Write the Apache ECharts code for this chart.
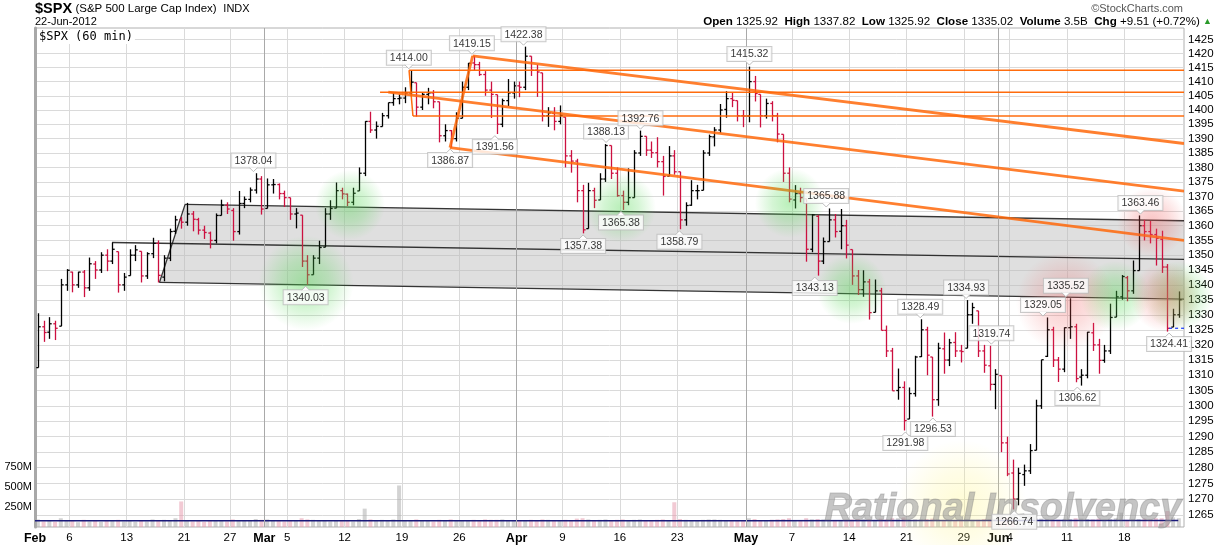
<!DOCTYPE html>
<html><head><meta charset="utf-8">
<script src="https://cdn.jsdelivr.net/npm/echarts@6/dist/echarts.min.js"></script>
<style>html,body{margin:0;padding:0;background:#fff}#c{width:1224px;height:545px}</style>
</head><body><div id="c"></div><script>
// ---------------- DATA ----------------
// trading days (x unit = one trading day, two bars per day: AM / PM)
const days = ['02-01','02-02','02-03','02-06','02-07','02-08','02-09','02-10','02-13','02-14','02-15','02-16','02-17','02-21','02-22','02-23','02-24','02-27','02-28','02-29',
'03-01','03-02','03-05','03-06','03-07','03-08','03-09','03-12','03-13','03-14','03-15','03-16','03-19','03-20','03-21','03-22','03-23','03-26','03-27','03-28','03-29','03-30',
'04-02','04-03','04-04','04-05','04-09','04-10','04-11','04-12','04-13','04-16','04-17','04-18','04-19','04-20','04-23','04-24','04-25','04-26','04-27','04-30',
'05-01','05-02','05-03','05-04','05-07','05-08','05-09','05-10','05-11','05-14','05-15','05-16','05-17','05-18','05-21','05-22','05-23','05-24','05-25','05-29','05-30','05-31',
'06-01','06-04','06-05','06-06','06-07','06-08','06-11','06-12','06-13','06-14','06-15','06-18','06-19','06-20','06-21','06-22'];

// [open, high, low, close] per half-day bar
const ohlc = [
[1312.5,1330.5,1312.5,1326],[1326,1328,1321,1324.1],
[1324.2,1329.2,1322,1327],[1327,1328,1321.6,1325.5],
[1326.2,1342,1326.2,1340],[1340,1345.3,1338,1344.9],
[1344.3,1344.4,1337.5,1340],[1340,1344.4,1339,1344.3],
[1344.3,1345,1335.9,1339],[1339,1349.2,1338,1347.1],
[1347,1348,1342,1345],[1345,1351,1344,1350],
[1350,1352,1344.6,1348],[1348,1354.3,1347,1352],
[1351.2,1351.2,1337.4,1340],[1340,1344,1338,1342.6],
[1343.1,1352,1343.1,1350],[1350,1353.4,1348,1351.8],
[1351.3,1351.3,1340.8,1343],[1343,1351,1342,1350.5],
[1350.5,1355.9,1349,1354],[1354,1355,1340.8,1343.2],
[1342.6,1350,1341.2,1349],[1349,1359,1348,1358],
[1358.1,1363.4,1357.2,1362],[1362,1363,1359,1361.2],
[1361.2,1367.8,1360,1364],[1364,1365,1358.1,1362.2],
[1362.1,1362.7,1357,1358.5],[1358.5,1360,1355.5,1357.7],
[1357.5,1358,1352.3,1355],[1355,1364.2,1354,1363.5],
[1363.5,1368.9,1363.5,1367],[1367,1368,1364,1365.7],
[1365.2,1366,1354.9,1358],[1358,1371.9,1357,1367.6],
[1367.6,1370,1366,1369],[1369,1373.1,1368,1372.2],
[1372.2,1378,1371,1376],[1376,1377,1363.8,1365.7],
[1365.9,1376.2,1365.9,1374],[1374,1376,1371,1374.1],
[1374.1,1374.5,1369,1371],[1371,1372,1366.4,1369.6],
[1369.6,1369.6,1362,1364],[1364,1366,1359.1,1364.3],
[1363.6,1363.6,1346,1348],[1348,1350,1340,1343.4],
[1343.4,1350,1343.4,1349],[1349,1354.9,1347,1352.6],
[1352.7,1366,1352.7,1364],[1364,1368.7,1362,1365.9],
[1366,1374.8,1366,1372],[1372,1373,1369,1370.9],
[1370.8,1371,1366.7,1368],[1368,1373,1367,1371.1],
[1371.9,1380,1371.9,1378],[1378,1396.1,1377,1396],
[1396,1399.4,1392,1393],[1393,1396,1390,1394.3],
[1394.2,1399,1394.2,1398],[1398,1402.6,1397,1402.6],
[1402.6,1405.9,1401.5,1404],[1404,1405.5,1402,1404.2],
[1404.2,1408,1402.4,1406],[1406,1414,1405,1409.8],
[1409.6,1409.6,1397.7,1401],[1401,1406,1400,1405.5],
[1405.5,1407.8,1402,1406],[1406,1407,1400.6,1402.9],
[1402.9,1402.9,1388.7,1391],[1391,1395,1389,1392.8],
[1392.8,1393,1386.9,1390],[1390,1399.2,1389,1397.1],
[1397.1,1410,1397.1,1408],[1408,1416.6,1407,1416.5],
[1416.6,1419.2,1414,1416],[1416,1417,1412,1412.5],
[1412.5,1413.7,1405,1407],[1407,1410,1397.2,1405.5],
[1405.4,1405.4,1391.6,1395],[1395,1404,1394,1403.3],
[1403.3,1410.9,1401.4,1406],[1406,1410,1404,1408.5],
[1408.5,1410,1404.5,1408],[1408,1422.4,1407,1419],
[1419,1419,1412,1414],[1414,1416,1404.6,1413.4],
[1413.1,1413.1,1396,1398],[1398,1401,1394.1,1399],
[1398.8,1401,1392.9,1396],[1396,1401.6,1395,1398.1],
[1397.5,1397.5,1380,1384],[1384,1386,1378.2,1382.2],
[1382.2,1383,1368,1372],[1372,1374,1357.4,1358.6],
[1359,1374.7,1359,1372],[1372,1373,1366,1368.7],
[1368.8,1378,1368.8,1376],[1376,1388.1,1375,1387.6],
[1387.6,1387.6,1376,1378],[1378,1380,1369.9,1370.3],
[1370.3,1372,1365.4,1368],[1368,1379.7,1367,1369.6],
[1369.6,1386,1369.6,1385],[1385,1392.8,1384,1390.8],
[1390.8,1390.8,1384,1386],[1386,1389,1383.3,1385.1],
[1385.1,1390.5,1380,1382],[1382,1384,1370.3,1376.9],
[1377,1387.4,1377,1384],[1384,1386,1377.5,1378.5],
[1378.5,1378.5,1358.8,1362],[1362,1368,1360,1366.9],
[1367,1375.6,1366.8,1372],[1372,1374,1369,1372],
[1372.1,1386,1372.1,1385],[1385,1391.4,1384,1390.7],
[1390.6,1394,1387.3,1393],[1393,1402.1,1392,1400],
[1400.2,1406.6,1397.3,1404],[1404,1406,1401,1403.4],
[1403.3,1403.3,1396,1398],[1398,1400,1394,1397.9],
[1397.9,1415.3,1395.7,1410],[1410,1412,1403,1405.8],
[1405.5,1405.5,1393.9,1398],[1398,1404,1397,1402.3],
[1402.3,1403.1,1396,1398],[1398,1399,1388.7,1391.6],
[1391.5,1391.5,1375,1378],[1378,1380,1368,1369.1],
[1368.8,1373.9,1365.9,1371],[1371,1373,1368,1369.6],
[1369.2,1369.2,1347.8,1352],[1352,1364,1351,1363.7],
[1363.2,1363.7,1343.1,1348],[1348,1356,1347,1354.6],
[1354.6,1365.9,1354.6,1362],[1362,1364,1356,1358],
[1358.1,1365.7,1352,1360],[1360,1362,1348.9,1353.4],
[1351.9,1351.9,1340,1343],[1343,1345,1336.6,1338.4],
[1338.4,1344.9,1336,1341],[1341,1342,1328.4,1330.7],
[1330.8,1341.8,1330.8,1338],[1338,1339,1324.8,1324.8],
[1324.8,1326.4,1316,1318],[1318,1319,1304.9,1304.9],
[1305,1312.2,1302,1306],[1306,1308,1292,1295.2],
[1295.7,1306,1295.7,1304],[1304,1316.4,1303,1316],
[1316.1,1328.5,1316,1325],[1325,1326,1310,1316.6],
[1316,1316,1296.5,1302],[1302,1320.7,1300,1318.9],
[1318.7,1324.1,1310.5,1315],[1315,1322,1313,1320.7],
[1320.8,1324.2,1316,1318],[1318,1320,1314.2,1317.8],
[1318.9,1334.9,1318.9,1330],[1330,1334,1327,1332.4],
[1331.3,1331.3,1316,1318],[1318,1320,1310.8,1313.3],
[1313.1,1319.7,1305,1307],[1307,1312,1298.9,1310.3],
[1309.9,1309.9,1285,1288],[1288,1290,1277.3,1278],
[1278.3,1282.6,1266.7,1270],[1270,1280,1268,1278.2],
[1277.8,1281,1274.2,1279],[1279,1287.6,1278,1285.5],
[1285.6,1302,1285.6,1300],[1300,1315.1,1299,1315.1],
[1316.2,1329.1,1316,1325],[1325,1326,1312.7,1315],
[1315,1316,1307.8,1312],[1312,1325.8,1311,1325.7],
[1325.7,1335.5,1322,1326],[1326,1327,1307.7,1308.9],
[1309.4,1312,1306.6,1310],[1310,1324.3,1309,1324.2],
[1324,1327.3,1318,1320],[1320,1322,1310.5,1314.9],
[1314.9,1320,1314.1,1318],[1318,1333.7,1317,1329.1],
[1329.2,1338,1329.2,1336],[1336,1343.3,1335,1342.8],
[1342.4,1343,1334.5,1338],[1338,1348.2,1337,1344.8],
[1344.8,1363.5,1344.8,1360],[1360,1362,1355,1358],
[1358,1361.6,1354,1357],[1357,1359,1346.5,1355.7],
[1355.4,1358.3,1344,1346],[1346,1347,1324.4,1325.5],
[1325.9,1332,1325.9,1330],[1330,1337.8,1329,1335]
];

// volume per bar (millions, hourly scale)
const volume = [
95,70, 85,65, 110,75, 80,60, 90,70, 85,65, 80,75, 90,70, 75,65, 80,70,
95,80, 90,85, 110,320, 85,70, 80,65, 85,80, 75,70, 95,85, 80,75, 100,90,
95,80, 85,70, 80,75, 110,95, 90,75, 85,70, 80,75, 75,70, 100,230, 95,85,
90,85, 95,520, 85,80, 95,80, 80,70, 90,80, 95,85, 85,80, 90,85, 95,90,
90,95, 80,85, 85,80, 90,85, 95,90, 80,75, 90,85, 105,110, 95,85, 90,95,
85,90, 95,85, 90,95, 80,85, 90,95, 85,310, 100,90, 85,80, 90,95, 95,90,
80,85, 75,85, 110,100, 85,80, 90,95, 100,110, 85,80, 110,95, 100,95, 90,85,
85,90, 95,100, 100,95, 90,105, 95,110, 110,120, 90,95, 95,100, 105,95, 90,85,
80,75, 95,90, 90,100, 95,105, 130,120, 120,110, 95,100, 110,105, 95,90, 90,95,
100,110, 105,100, 95,105, 90,100, 110,180, 90,95, 100,105, 95,110, 110,200, 120,110
];
// volume moving average [day, millions]
const volumeMA = [[0,78],[20,78],[42,78],[62,79],[84,80],[99.7,80]];

// x-axis ticks (trading-day index) and their labels
const tickDays = [0,3,8,13,17,20,22,27,32,37,42,46,51,56,62,66,71,76,81,84,85,90,95];
const tickLabels = ['Feb','6','13','21','27','Mar','5','12','19','26','Apr','9','16','23','May','7','14','21','29','Jun','4','11','18'];
const monthNames = ['Feb','Mar','Apr','May','Jun'];
const monthDays = [20,42,62,84];

// price ticks
const priceTicks = [1265,1270,1275,1280,1285,1290,1295,1300,1305,1310,1315,1320,1325,1330,1335,1340,1345,1350,1355,1360,1365,1370,1375,1380,1385,1390,1395,1400,1405,1410,1415,1420,1425];
const volumeTicks = [250,500,750];

// trendlines [day1, price1, day2, price2]
const greyLines = [[13.09,1367.3,100.2,1361.7],[6.72,1354.3,100.2,1348.6],[10.85,1340.8,100.2,1335.2],[10.85,1340.8,13.09,1367.3]];
const greyArea = [[10.85,1340.8],[13.09,1367.3],[100.2,1361.7],[100.2,1335.2]];
const orangeThick = [[38.17,1419.15,100.2,1388.3],[30.81,1406.3,100.2,1371.8],[36.19,1386.87,100.2,1355.0],[36.19,1386.87,38.17,1419.15]];
const orangeThin = [[32.62,1414.0,100.2,1414.0],[30.09,1406.2,100.2,1406.2],[32.96,1397.9,100.2,1397.9],[32.62,1414.0,32.96,1397.9]];
const prevCloseLine = [[98.9,1325.51,100.2,1325.51]];

// highlight glows [day, price, kind]
const glows = [[27.47,1367.1,'g'],[23.64,1340.6,'G'],[51.1,1366.1,'g'],[65.83,1367.8,'g'],[71.2,1338.6,'g'],[94.2,1336.3,'g'],[99.7,1336.3,'g'],
  [89.9,1334.3,'R'],[97.4,1361.3,'r'],[98.6,1335.9,'r'],[80.8,1268.1,'y']];

// pivot labels [day, price, side]
const pivots = [[19.05,1378.04,'top'],[23.6,1340.03,'bottom'],[32.6,1414.00,'top'],[38.1,1419.15,'top'],[36.2,1386.87,'bottom'],
 [42.6,1422.38,'top'],[40.1,1391.56,'bottom'],[47.8,1357.38,'bottom'],[49.8,1388.13,'top'],[51.1,1365.38,'bottom'],[52.8,1392.76,'top'],
 [56.2,1358.79,'bottom'],[62.3,1415.32,'top'],[69.0,1365.88,'top'],[68.0,1343.13,'bottom'],[75.9,1291.98,'bottom'],[77.2,1328.49,'top'],
 [78.3,1296.53,'bottom'],[81.2,1334.93,'top'],[83.4,1319.74,'top'],[85.4,1266.74,'bottom'],[87.9,1329.05,'top'],[89.9,1335.52,'top'],
 [90.9,1306.62,'bottom'],[96.4,1363.46,'top'],[98.9,1324.41,'bottom']];

// ---------------- CHART ----------------
const FONT = "'Liberation Sans', Arial, sans-serif";
const LABEL_GAP = 5;
const barX = i => Math.floor(i/2) + (i % 2 ? 0.75 : 0.25);
const barData = ohlc.map((b,i) => {
  const prev = i === 0 ? b[0] : ohlc[i-1][3];
  return [barX(i), b[0], b[1], b[2], b[3], b[3] < prev ? 1 : 0];
});
const volData = volume.map((v,i) => [barX(i), v, barData[i][5]]);

const glowStyle = {
  g:{size:70, c:'80,215,80', a:0.5}, G:{size:95, c:'80,215,80', a:0.55},
  r:{size:70, c:'240,90,90', a:0.45}, R:{size:100, c:'240,90,90', a:0.4},
  y:{size:130, c:'255,245,130', a:0.42}
};

function lineSeries(lines, style, z){
  return {
    type:'custom', yAxisIndex:0, z:z, silent:true, clip:true,
    data: lines, encode:{x:[0,2], y:[1,3]},
    renderItem:(p, api) => {
      const a = api.coord([api.value(0), api.value(1)]);
      const b = api.coord([api.value(2), api.value(3)]);
      return {type:'line', shape:{x1:a[0],y1:a[1],x2:b[0],y2:b[1]}, style:style};
    }
  };
}

const chart = echarts.init(document.getElementById('c'));
chart.setOption({
  animation:false,
  backgroundColor:'#fff',
  grid:{left:35, right:40, top:28, bottom:18, show:true, borderColor:'#b0b0b0', borderWidth:1, backgroundColor:'#fff'},
  xAxis:{
    type:'value', min:0, max:100.2,
    axisLine:{show:false}, axisTick:{show:false, customValues:tickDays},
    axisLabel:{customValues:tickDays, margin:5, fontSize:11.5, fontFamily:FONT, color:'#000',
      formatter:v => { const i = tickDays.indexOf(Math.round(v)); const t = i >= 0 ? tickLabels[i] : ''; return monthNames.includes(t) ? '{m|'+t+'}' : t; },
      rich:{m:{fontWeight:'bold', fontSize:12.5, fontFamily:FONT, color:'#000'}}},
    splitLine:{show:true, lineStyle:{color:'#dadada', width:1}}
  },
  yAxis:[{
    type:'log', logBase:10, min:1261.13, max:1429.06, position:'right',
    axisLine:{show:false}, axisTick:{show:false, customValues:priceTicks},
    axisLabel:{customValues:priceTicks, margin:4, fontSize:11.5, fontFamily:FONT, color:'#000', formatter:v => String(Math.round(v))},
    splitLine:{show:true, lineStyle:{color:'#dadada', width:1}}
  },{
    type:'value', min:0, max:6250, position:'left',
    axisLine:{show:true, onZero:false, lineStyle:{color:'#a8a8a8', width:3}}, axisTick:{show:false, customValues:volumeTicks},
    axisLabel:{customValues:volumeTicks, margin:3, fontSize:11, fontFamily:FONT, color:'#000', formatter:v => v+'M'},
    splitLine:{show:false}
  }],
  graphic:[
    {type:'text', left:35, top:1, z:10, style:{text:'{a|$SPX} {b|(S&P 500 Large Cap Index)}  {c|INDX}', rich:{
      a:{font:'bold 14.5px '+FONT, fill:'#000'}, b:{font:'11.5px '+FONT, fill:'#000'}, c:{font:'11px '+FONT, fill:'#000'}}}},
    {type:'text', left:35, top:16, z:10, style:{text:'22-Jun-2012', font:'11px '+FONT, fill:'#000'}},
    {type:'text', right:41, top:3, z:10, style:{text:'\u00a9StockCharts.com', font:'11px '+FONT, fill:'#555'}},
    {type:'text', right:12, top:16, z:10, style:{
      text:'{b|Open} 1325.92  {b|High} 1337.82  {b|Low} 1325.92  {b|Close} 1335.02  {b|Volume} 3.5B  {b|Chg} +9.51 (+0.72%) {g|\u25B2}',
      font:'11.6px '+FONT, fill:'#000', rich:{b:{font:'bold 11.6px '+FONT, fill:'#000'}, g:{font:'9px '+FONT, fill:'#2a9a2a'}}}},
    {type:'text', left:37, top:30, z:10, style:{text:'$SPX (60 min)', font:'12px "DejaVu Sans Mono", monospace', fill:'#000', backgroundColor:'#fff', padding:[1,2]}},
    {type:'text', left:824, top:490, z:20, silent:true, style:{text:'Rational Insolvency', font:'italic bold 38px '+FONT,
      fill:'rgba(150,150,150,0.55)', stroke:'rgba(110,110,110,0.35)', lineWidth:1}}
  ],
  series:[
    {type:'custom', yAxisIndex:0, z:1, silent:true, data:[greyArea[0]], encode:{x:0,y:1},
      renderItem:(p, api) => ({type:'polygon', shape:{points:greyArea.map(pt => api.coord(pt))}, style:{fill:'rgba(185,185,185,0.45)'}})},
    {type:'custom', yAxisIndex:1, z:1, silent:true, data:volData, encode:{x:0,y:1},
      renderItem:(p, api) => {
        const x = api.value(0); const a = api.coord([x,0]); const b = api.coord([x, api.value(1)]);
        return {type:'rect', shape:{x:a[0]-2, y:b[1], width:4, height:a[1]-b[1]},
          style:{fill: api.value(2) ? 'rgba(230,150,170,0.5)' : 'rgba(175,175,175,0.55)'}};
      }},
    {type:'line', yAxisIndex:1, z:2, data:volumeMA, symbol:'none', silent:true, lineStyle:{color:'#1a1a7a', width:1.5},
      markLine:{silent:true, symbol:'none', label:{show:false}, lineStyle:{color:'#a9a9a9', width:1, type:'solid'},
        data:monthDays.map(d => ({xAxis:d}))}},
    lineSeries(greyLines, {stroke:'rgba(20,20,20,0.85)', lineWidth:1.3}, 3),
    {type:'custom', yAxisIndex:0, z:4, silent:true, data:barData, encode:{x:0, y:[1,2,3,4]},
      renderItem:(p, api) => {
        const x = api.value(0);
        const h = api.coord([x, api.value(2)]), l = api.coord([x, api.value(3)]);
        const o = api.coord([x, api.value(1)]), c = api.coord([x, api.value(4)]);
        const col = api.value(5) ? '#cc1040' : '#000';
        const st = {stroke:col, lineWidth:1.3};
        const xx = Math.round(h[0]) + 0.5;
        return {type:'group', children:[
          {type:'line', shape:{x1:xx, y1:h[1], x2:xx, y2:l[1]}, style:st},
          {type:'line', shape:{x1:xx-2.2, y1:o[1], x2:xx, y2:o[1]}, style:st},
          {type:'line', shape:{x1:xx, y1:c[1], x2:xx+2.2, y2:c[1]}, style:st}
        ]};
      }},
    lineSeries(orangeThin, {stroke:'rgba(255,100,0,0.95)', lineWidth:1.5}, 5),
    lineSeries(orangeThick, {stroke:'rgba(255,105,10,0.85)', lineWidth:2.8}, 5),
    lineSeries(prevCloseLine, {stroke:'#1030ff', lineWidth:1.2, lineDash:[3,3]}, 5),
    {type:'scatter', yAxisIndex:0, z:6, silent:true,
      data:glows.map(g => { const s = glowStyle[g[2]]; return {value:[g[0], g[1]], symbolSize:s.size,
        itemStyle:{color:{type:'radial', x:0.5, y:0.5, r:0.5, colorStops:[
          {offset:0, color:'rgba('+s.c+','+s.a+')'},{offset:0.5, color:'rgba('+s.c+','+(s.a*0.6)+')'},{offset:1, color:'rgba('+s.c+',0)'}]}}}; })},
    {type:'scatter', yAxisIndex:0, z:30, silent:true, symbolSize:1, itemStyle:{color:'rgba(0,0,0,0)'},
      data:pivots.map(p => ({value:[p[0], p[1]], label:{position:p[2]}})),
      label:{show:true, distance:LABEL_GAP, formatter:p => p.value[1].toFixed(2), fontSize:10.5, fontFamily:FONT, color:'#000',
        backgroundColor:'#fff', borderColor:'#bdbdbd', borderWidth:1, padding:[2,3,1,3]}},
    // small pointer notches under/over the pivot labels
    {type:'custom', yAxisIndex:0, z:31, silent:true, data:pivots.map(p => [p[0], p[1], p[2] === 'top' ? -1 : 1]), encode:{x:0, y:1},
      renderItem:(p, api) => {
        const pt = api.coord([api.value(0), api.value(1)]);
        const s = api.value(2);
        const yb = pt[1] + s * (LABEL_GAP + 0.5), yt = pt[1] + s * 1.5;
        return {type:'group', children:[
          {type:'polygon', shape:{points:[[pt[0]-4, yb],[pt[0]+4, yb],[pt[0], yt]]}, style:{fill:'#fff'}},
          {type:'polyline', shape:{points:[[pt[0]-4, yb],[pt[0], yt],[pt[0]+4, yb]]}, style:{stroke:'#bdbdbd', lineWidth:1, fill:null}}
        ]};
      }}
  ]
});
</script></body></html>
